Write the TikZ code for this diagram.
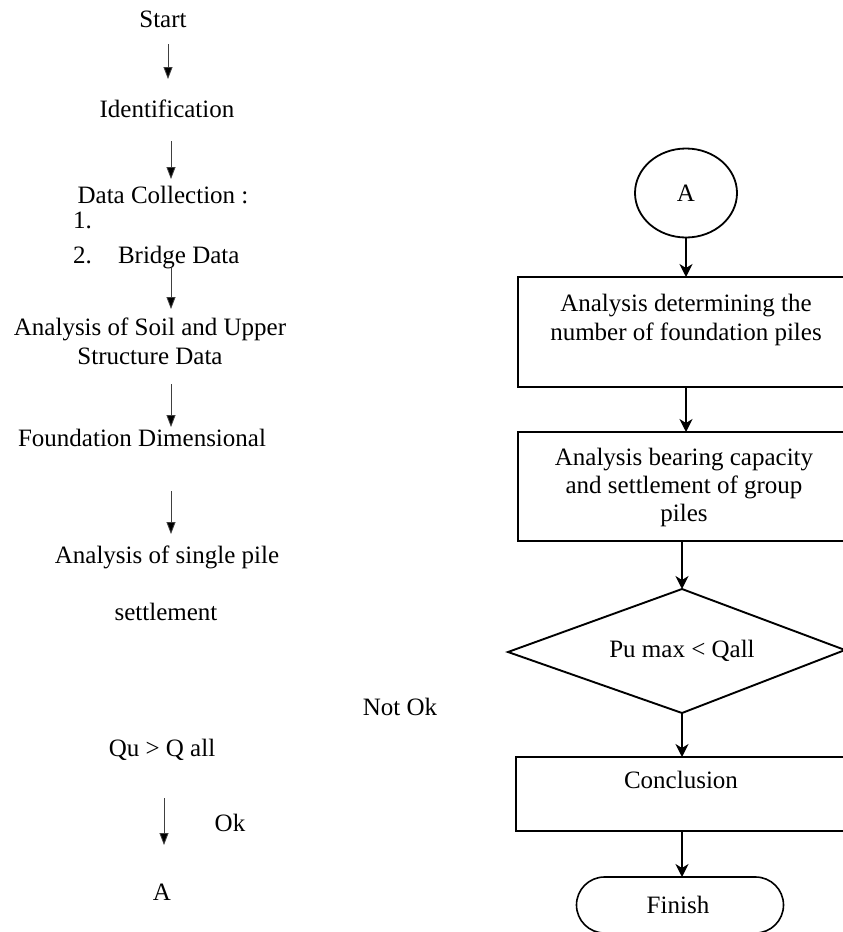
\documentclass[tikz,border=0pt]{standalone}
\usepackage{fontspec}
\setmainfont{Liberation Serif}
\usetikzlibrary{arrows.meta,shapes.geometric,shapes.misc}
\begin{document}
\begin{tikzpicture}[x=1pt,y=-1pt,
  every node/.style={inner sep=0pt,outer sep=0pt,font=\fontsize{25}{29}\selectfont},
  txt/.style={anchor=base},
  larrow/.style={draw=black!75,line width=0.8pt,-{Triangle[width=9pt,length=12pt,fill=black]}},
  rarrow/.style={draw=black,line width=1.4pt,-{Stealth[width=13pt,length=13pt,inset=4pt]}},
  boxnode/.style={draw=black,line width=1.1pt,rectangle,anchor=north west},
]
\useasboundingbox (0,0) rectangle (843,932);
\clip (0,0) rectangle (843,932);
\fill[white] (0,0) rectangle (843,932);
% ---------------- left column ----------------
\node[txt] (start) at (163,27) {Start};
\node[txt] (ident) at (167,117) {Identification};
\node[txt] (datacol) at (163,203) {Data Collection :};
\node[txt,anchor=base west] (one) at (73,228) {1.};
\node[txt,anchor=base west] (two) at (73,263) {2.};
\node[txt,anchor=base west] (bridge) at (118,263) {Bridge Data};
\node[txt,align=center] (soil) at (150,364) {Analysis of Soil and Upper\\Structure Data};
\node[txt] (found) at (142,446) {Foundation Dimensional};
\node[txt] (single) at (167,563) {Analysis of single pile};
\node[txt] (settle) at (166,620) {settlement};
\node[txt] (notok) at (400,715) {Not Ok};
\node[txt] (qu) at (162,756) {Qu > Q all};
\node[txt] (ok) at (230,831) {Ok};
\node[txt] (aleft) at (162,900) {A};

\coordinate (a1s) at (168,44);  \coordinate (a1e) at (168,79);
\coordinate (a2s) at (171,141); \coordinate (a2e) at (171,179);
\coordinate (a3s) at (171,268); \coordinate (a3e) at (171,309);
\coordinate (a4s) at (171,384); \coordinate (a4e) at (171,427);
\coordinate (a5s) at (171,491); \coordinate (a5e) at (171,534);
\coordinate (a6s) at (164,798); \coordinate (a6e) at (164,845);
\draw[larrow] (a1s) -- (a1e);
\draw[larrow] (a2s) -- (a2e);
\draw[larrow] (a3s) -- (a3e);
\draw[larrow] (a4s) -- (a4e);
\draw[larrow] (a5s) -- (a5e);
\draw[larrow] (a6s) -- (a6e);

% ---------------- right column ----------------
\node[draw=black,line width=1.8pt,ellipse,minimum width=102pt,minimum height=89pt] (circA) at (686,193) {};
\node[txt] (atext) at (686,201) {A};

\node[boxnode,minimum width=336pt,minimum height=110pt] (b1) at (518,277) {};
\node[txt,align=center] (b1t) at (686,340) {Analysis determining the\\number of foundation piles};

\node[boxnode,minimum width=334pt,minimum height=109pt] (b2) at (518,432) {};
\node[txt,align=center,font=\fontsize{25}{28}\selectfont] (b2t) at (684,521) {Analysis bearing capacity\\and settlement of group\\piles};

\coordinate (dtop) at (682,589);
\coordinate (dleft) at (508,652);
\coordinate (dbot) at (682,713);
\coordinate (dright) at (845,650);
\draw[line width=1.9pt,line join=miter] (dtop) -- (dright) -- (dbot) -- (dleft) -- cycle;
\node[txt] (dtext) at (682,657) {Pu max < Qall};

\node[boxnode,minimum width=332pt,minimum height=74pt] (b3) at (516,757) {};
\node[txt] (b3t) at (681,788) {Conclusion};

\node[draw=black,line width=1.6pt,rounded rectangle,minimum width=207pt,minimum height=56pt] (fin) at (680,905) {};
\node[txt] (fint) at (678,913) {Finish};

\draw[rarrow] (circA.south) -- (circA.south |- b1.north);
\draw[rarrow] (b1.south -| circA.south) -- (circA.south |- b2.north);
\draw[rarrow] (dtop |- b2.south) -- (dtop);
\draw[rarrow] (dbot) -- (dbot |- b3.north);
\draw[rarrow] (dbot |- b3.south) -- (dbot |- fin.north);
\end{tikzpicture}
\end{document}
